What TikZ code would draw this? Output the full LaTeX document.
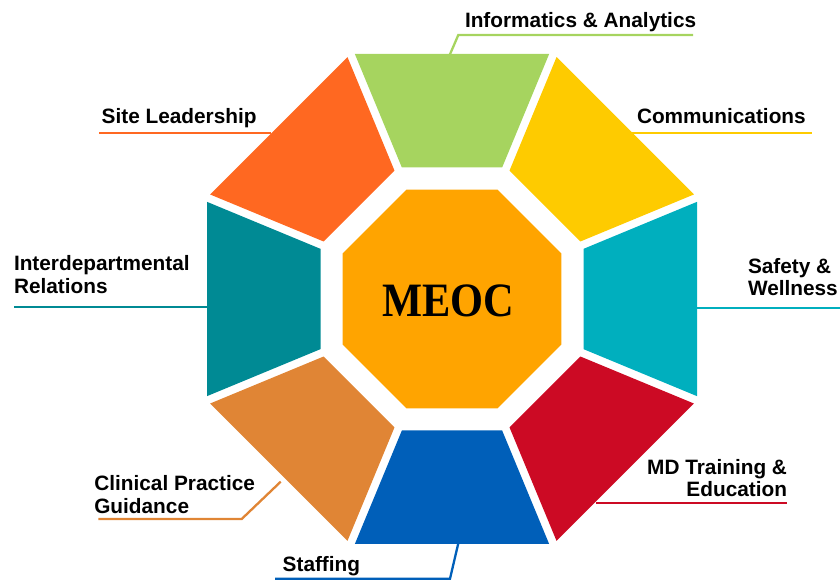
\documentclass[tikz,border=0pt]{standalone}
\usepackage{fontspec}
\setmainfont{Liberation Sans}
\newfontfamily\hubfont{Liberation Serif}
\usetikzlibrary{calc}
\definecolor{cInfo}{HTML}{A6D45F}
\definecolor{cComm}{HTML}{FECB00}
\definecolor{cSafe}{HTML}{00AFBE}
\definecolor{cMD}{HTML}{CC0A24}
\definecolor{cStaff}{HTML}{005FB9}
\definecolor{cClin}{HTML}{E08535}
\definecolor{cInter}{HTML}{008A94}
\definecolor{cSite}{HTML}{FF6821}
\definecolor{cHub}{HTML}{FFA400}
\begin{document}
\begin{tikzpicture}[x=1pt,y=1pt,
  lbl/.style={font=\fontsize{20.8}{22.6}\selectfont\bfseries, inner sep=0pt, outer sep=0pt, text=black},
  lead/.style={draw=#1, line width=2.3pt},
]
\useasboundingbox (0,0) rectangle (840,580);
\coordinate (c) at (452,281);

% eight outer segments, each a trapezoid rotated about the centre
\foreach \rot/\col in {0/cInfo, -45/cComm, -90/cSafe, -135/cMD, 180/cStaff, 135/cClin, 90/cInter, 45/cSite}{
  \fill[fill=\col, shift={(c)}, rotate=\rot]
    (-97.15,245) -- (97.15,245) -- (50.14,131.5) -- (-50.14,131.5) -- cycle;
}

% central octagon
\fill[cHub, shift={(c)}] (22.5:118.5) \foreach \a in {67.5,112.5,...,337.5}{ -- (\a:118.5)} -- cycle;
\node[inner sep=0pt] (hub) at (448,279.1)
  {\scalebox{1}[1.13]{\hubfont\bfseries\fontsize{42.4}{44}\selectfont MEOC}};

% labels (for two-line labels the base anchor sits on the last line)
\node[lbl, anchor=base west] (tInfo) at (465,552.7) {Informatics \& Analytics};
\node[lbl, anchor=base west] (tComm) at (637,456.7) {Communications};
\node[lbl, anchor=base west] (tSite) at (101.7,456) {Site Leadership};
\node[lbl, anchor=base west, align=left] (tInter) at (14,286.7) {Interdepartmental\\Relations};
\node[lbl, anchor=base west, align=left] (tSafe) at (748,284) {Safety \&\\Wellness};
\node[lbl, anchor=base east, align=right] (tMD) at (787,83) {MD Training \&\\Education};
\node[lbl, anchor=base west, align=left] (tClin) at (94.3,66.5) {Clinical Practice\\Guidance};
\node[lbl, anchor=base west] (tStaff) at (282.7,8.3) {Staffing};

% leader lines
\coordinate (pInfo) at (450,525.7);  \coordinate (kInfo) at (458.3,545);  \coordinate (eInfo) at (693,545);
\coordinate (pComm) at (628,447.3);  \coordinate (eComm) at (812,447.3);
\coordinate (pSite) at (271,446.7);  \coordinate (eSite) at (99,446.7);
\coordinate (pInter) at (207,273.3); \coordinate (eInter) at (14,273.3);
\coordinate (pSafe) at (697.3,272.3); \coordinate (eSafe) at (840,272.3);
\coordinate (pMD) at (596,77.3);     \coordinate (eMD) at (787,77.3);
\coordinate (pClin) at (280.7,98.3); \coordinate (kClin) at (241.7,61); \coordinate (eClin) at (98.3,61);
\coordinate (pStaff) at (458.3,36.7); \coordinate (kStaff) at (450,1.3); \coordinate (eStaff) at (275,1.3);

\draw[lead=cInfo] (pInfo) -- (kInfo) -- (eInfo);
\draw[lead=cComm] (pComm) -- (eComm);
\draw[lead=cSite] (pSite) -- (eSite);
\draw[lead=cInter] (pInter) -- (eInter);
\draw[lead=cSafe] (pSafe) -- (eSafe);
\draw[lead=cMD] (pMD) -- (eMD);
\draw[lead=cClin] (pClin) -- (kClin) -- (eClin);
\draw[lead=cStaff] (pStaff) -- (kStaff) -- (eStaff);
\end{tikzpicture}
\end{document}
